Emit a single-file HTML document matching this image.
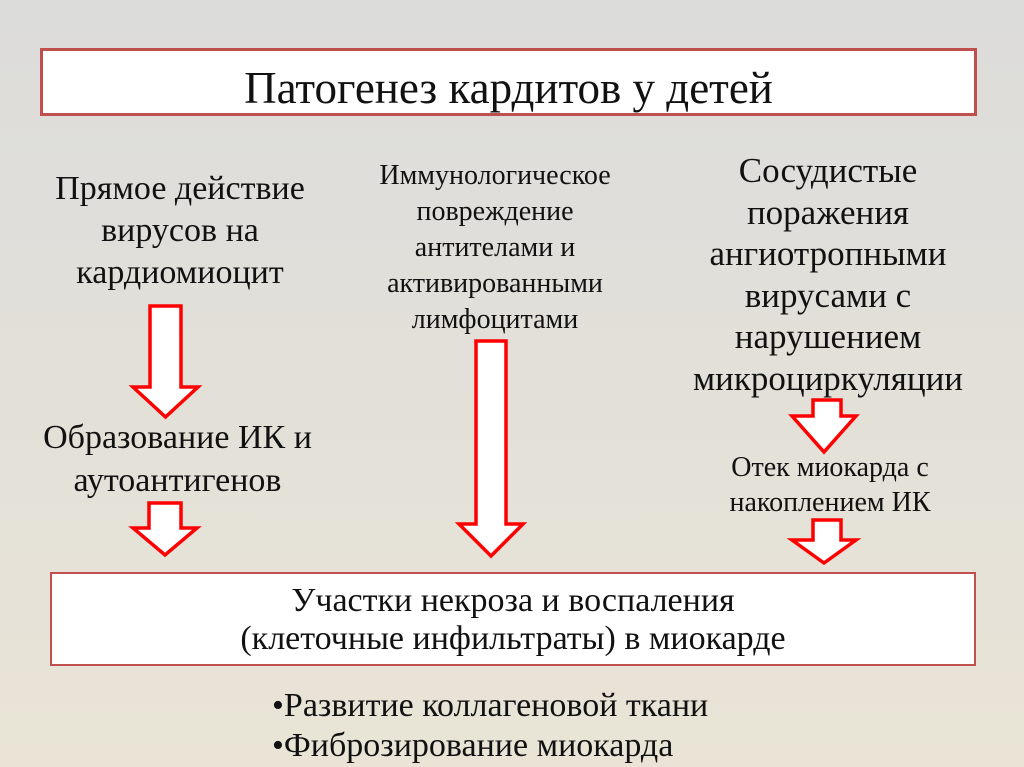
<!DOCTYPE html>
<html><head><meta charset="utf-8"><style>
body{margin:0;width:1024px;height:767px;overflow:hidden;background:linear-gradient(#dcdcdb,#e9e4d6);font-family:"Liberation Serif",serif;position:relative;color:#111}
.t{position:absolute;text-align:center;white-space:nowrap}
.box{position:absolute;background:#fff;border:3px solid #c0504d;box-sizing:border-box}
</style></head><body>
<div class="box" style="left:40px;top:48px;width:937px;height:68px"></div>
<div class="t" style="left:40px;width:937px;top:63px;font-size:45px;line-height:50px">Патогенез кардитов у детей</div>
<div class="t" style="left:0px;width:360px;top:168px;font-size:34px;line-height:42px">Прямое действие<br>вирусов на<br>кардиомиоцит</div>
<div class="t" style="left:330px;width:330px;top:158px;font-size:28px;line-height:36px">Иммунологическое<br>повреждение<br>антителами и<br>активированными<br>лимфоцитами</div>
<div class="t" style="left:663px;width:330px;top:150px;font-size:35px;line-height:41.6px">Сосудистые<br>поражения<br>ангиотропными<br>вирусами с<br>нарушением<br>микроциркуляции</div>
<div class="t" style="left:0px;width:355px;top:416px;font-size:34px;line-height:43px">Образование ИК и<br>аутоантигенов</div>
<div class="t" style="left:665px;width:330px;top:450px;font-size:28px;line-height:35px">Отек миокарда с<br>накоплением ИК</div>
<div class="box" style="left:50px;top:572px;width:926px;height:94px;border-width:2px"></div>
<div class="t" style="left:50px;width:926px;top:582px;font-size:34px;line-height:38px">Участки некроза и воспаления<br>(клеточные инфильтраты) в миокарде</div>
<div class="t" style="left:272px;top:686px;font-size:34px;line-height:40px;text-align:left">•Развитие коллагеновой ткани<br>•Фиброзирование миокарда</div>
<svg width="1024" height="767" style="position:absolute;left:0;top:0" fill="#fff" stroke="#f00" stroke-width="3.5">
<polygon points="150,306 181,306 181,387 198,387 165.5,417 133,387 150,387"/>
<polygon points="149,503 181,503 181,528 197,528 165,555 133,528 149,528"/>
<polygon points="476,341 506,341 506,524 523,524 491,556 459,524 476,524"/>
<polygon points="813,400 841,400 841,416 856,416 824,452 792,416 813,416"/>
<polygon points="813,520 841,520 841,540 856,540 824,563 792,540 813,540"/>
</svg>
</body></html>
